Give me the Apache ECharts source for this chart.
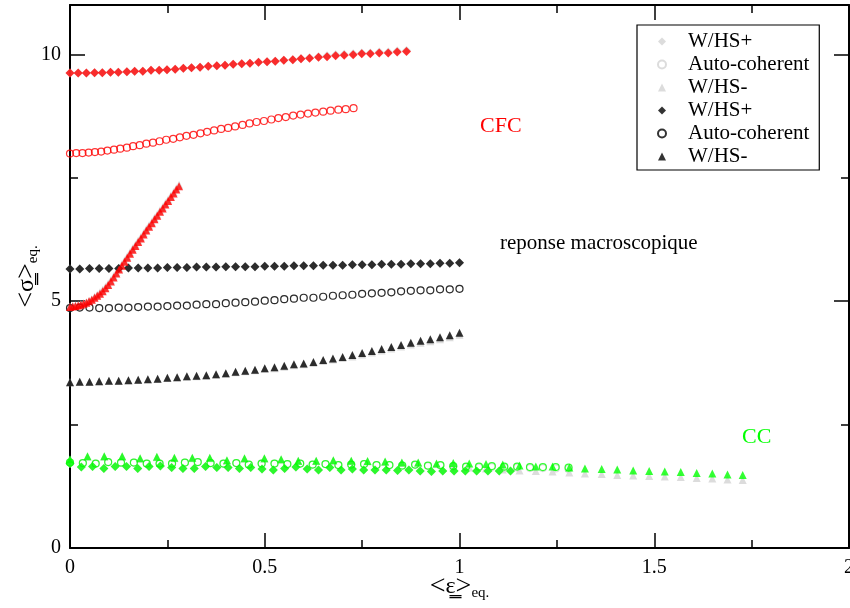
<!DOCTYPE html>
<html><head><meta charset="utf-8">
<script src="https://cdn.jsdelivr.net/npm/echarts@6/dist/echarts.min.js"></script>
<style>html,body{margin:0;padding:0;background:#fff}#c{width:850px;height:608px}</style>
</head><body><div id="c"></div>
<script>
// ---------- tick data ----------
const xTickValues = [0, 0.5, 1, 1.5, 2];
const xMinorTickValues = [0.25, 0.75, 1.25, 1.75];
const yTickValues = [0, 5, 10];
const yMinorTickValues = [2.5, 7.5];

// ---------- CFC (red) ----------
const cfcDiaX = [0,0.021,0.042,0.063,0.083,0.104,0.124,0.146,0.166,0.187,0.208,0.229,0.249,0.270,0.291,0.312,0.334,0.355,0.377,0.398,0.419,0.441,0.462,0.484,0.506,0.527,0.549,0.572,0.593,0.615,0.638,0.660,0.682,0.704,0.727,0.749,0.771,0.794,0.817,0.840,0.864];
const cfcDiaY = [9.62,9.62,9.62,9.63,9.63,9.64,9.64,9.65,9.66,9.66,9.68,9.68,9.69,9.70,9.72,9.73,9.74,9.76,9.77,9.78,9.80,9.81,9.82,9.84,9.85,9.86,9.88,9.89,9.91,9.92,9.94,9.95,9.97,9.98,9.99,10.01,10.01,10.03,10.03,10.05,10.06];
const cfcCircX = [0,0.016,0.032,0.048,0.064,0.080,0.096,0.113,0.129,0.146,0.162,0.179,0.196,0.213,0.230,0.247,0.265,0.282,0.299,0.317,0.335,0.352,0.370,0.388,0.406,0.424,0.443,0.461,0.479,0.498,0.517,0.535,0.554,0.573,0.592,0.611,0.630,0.650,0.669,0.689,0.708,0.728];
const cfcCircY = [7.99,8.00,8.00,8.01,8.02,8.03,8.05,8.07,8.09,8.11,8.14,8.16,8.19,8.21,8.24,8.27,8.29,8.32,8.35,8.37,8.40,8.43,8.46,8.49,8.51,8.54,8.57,8.60,8.63,8.65,8.68,8.71,8.73,8.76,8.78,8.80,8.82,8.84,8.86,8.88,8.89,8.91];
const cfcTriX = [0,0.007,0.014,0.021,0.028,0.035,0.042,0.049,0.056,0.063,0.070,0.077,0.084,0.091,0.098,0.105,0.112,0.119,0.126,0.133,0.140,0.147,0.154,0.161,0.168,0.175,0.182,0.189,0.196,0.203,0.210,0.217,0.224,0.231,0.238,0.245,0.252,0.259,0.266,0.273,0.280];
const cfcTriY = [4.88,4.89,4.90,4.91,4.93,4.95,4.97,5.00,5.03,5.07,5.11,5.15,5.20,5.26,5.33,5.40,5.48,5.56,5.64,5.72,5.80,5.88,5.96,6.04,6.12,6.20,6.27,6.35,6.43,6.51,6.58,6.66,6.73,6.81,6.88,6.96,7.03,7.11,7.18,7.26,7.33];

// ---------- reponse macroscopique (black) ----------
const macX = [0,0.025,0.05,0.075,0.1,0.125,0.15,0.175,0.2,0.225,0.25,0.275,0.3,0.325,0.35,0.375,0.4,0.425,0.45,0.475,0.5,0.525,0.55,0.575,0.6,0.625,0.65,0.675,0.7,0.725,0.75,0.775,0.8,0.825,0.85,0.875,0.9,0.925,0.95,0.975,1.0];
const macDiaY = [5.65,5.65,5.66,5.66,5.66,5.66,5.67,5.67,5.67,5.67,5.68,5.68,5.68,5.69,5.69,5.69,5.70,5.70,5.70,5.70,5.71,5.71,5.71,5.72,5.72,5.72,5.73,5.73,5.73,5.74,5.74,5.74,5.75,5.75,5.75,5.76,5.76,5.76,5.77,5.77,5.78];
const macCircY = [4.86,4.87,4.87,4.86,4.86,4.87,4.87,4.88,4.89,4.89,4.90,4.91,4.91,4.93,4.94,4.94,4.96,4.97,4.98,4.99,5.01,5.02,5.04,5.05,5.07,5.07,5.09,5.11,5.12,5.13,5.15,5.16,5.17,5.18,5.20,5.21,5.22,5.22,5.24,5.24,5.25];
const macTriY = [3.36,3.37,3.37,3.38,3.39,3.39,3.40,3.41,3.42,3.43,3.45,3.46,3.48,3.49,3.50,3.52,3.54,3.57,3.59,3.61,3.64,3.66,3.69,3.72,3.74,3.77,3.81,3.84,3.87,3.91,3.95,3.99,4.03,4.07,4.11,4.16,4.20,4.23,4.27,4.31,4.36];

// ---------- CC (green) ----------
const ccDiaX = [0,0.029,0.058,0.087,0.116,0.145,0.174,0.203,0.232,0.261,0.290,0.319,0.348,0.377,0.406,0.435,0.464,0.493,0.522,0.551,0.580,0.609,0.638,0.667,0.696,0.725,0.754,0.783,0.812,0.841,0.870,0.899,0.928,0.957,0.986,1.015,1.044,1.073,1.102,1.131];
const ccDiaY = [1.71,1.64,1.65,1.61,1.65,1.65,1.61,1.65,1.66,1.63,1.61,1.61,1.65,1.63,1.63,1.61,1.63,1.60,1.58,1.61,1.64,1.60,1.58,1.63,1.58,1.60,1.58,1.58,1.58,1.57,1.58,1.56,1.55,1.56,1.56,1.56,1.56,1.56,1.56,1.56];
const ccCircX = [0,0.033,0.066,0.098,0.131,0.164,0.197,0.230,0.262,0.295,0.328,0.361,0.394,0.427,0.459,0.492,0.525,0.558,0.591,0.623,0.656,0.689,0.722,0.755,0.787,0.820,0.853,0.886,0.919,0.951,0.984,1.017,1.050,1.083,1.115,1.148,1.181,1.214,1.247,1.280];
const ccCircY = [1.73,1.72,1.71,1.74,1.73,1.73,1.71,1.71,1.71,1.73,1.74,1.72,1.71,1.72,1.69,1.71,1.71,1.70,1.71,1.69,1.70,1.68,1.69,1.70,1.68,1.68,1.67,1.69,1.67,1.68,1.66,1.65,1.65,1.66,1.65,1.65,1.64,1.64,1.64,1.63];
const ccTriX = [0,0.045,0.088,0.134,0.180,0.223,0.268,0.314,0.359,0.403,0.448,0.499,0.542,0.586,0.632,0.676,0.722,0.764,0.809,0.852,0.894,0.941,0.984,1.025,1.068,1.111,1.154,1.196,1.239,1.282,1.322,1.365,1.405,1.446,1.487,1.527,1.568,1.609,1.649,1.688,1.727];
const ccTriY = [1.80,1.86,1.86,1.86,1.82,1.85,1.83,1.83,1.83,1.78,1.82,1.82,1.80,1.77,1.77,1.78,1.77,1.76,1.75,1.73,1.73,1.71,1.72,1.71,1.70,1.69,1.67,1.65,1.65,1.63,1.61,1.60,1.59,1.57,1.56,1.55,1.54,1.52,1.51,1.49,1.48];

// ---------- grey (second model) ----------
const greyCfcDiaY = [9.62,9.62,9.62,9.63,9.63,9.64,9.64,9.65,9.66,9.66,9.68,9.68,9.69,9.70,9.72,9.73,9.74,9.76,9.77,9.78,9.80,9.81,9.82,9.84,9.85,9.86,9.88,9.89,9.91,9.93,9.95,9.97,9.99,10.00,10.01,10.03,10.03,10.05,10.05,10.07,10.08];
const greyCfcTriY = [4.89,4.90,4.91,4.92,4.94,4.96,4.98,5.01,5.04,5.09,5.13,5.18,5.23,5.29,5.36,5.43,5.51,5.59,5.67,5.75,5.83,5.91,5.99,6.07,6.15,6.23,6.30,6.38,6.46,6.54,6.61,6.69,6.76,6.84,6.91,6.99,7.06,7.14,7.21,7.29,7.36];
const greyMacTriY = [3.36,3.37,3.37,3.38,3.39,3.39,3.40,3.41,3.42,3.43,3.45,3.46,3.47,3.48,3.49,3.51,3.53,3.56,3.58,3.60,3.63,3.64,3.67,3.70,3.72,3.75,3.79,3.82,3.85,3.88,3.92,3.96,4.00,4.04,4.08,4.12,4.16,4.19,4.23,4.27,4.32];
const greyCcTriY = [1.79,1.85,1.85,1.85,1.81,1.84,1.82,1.82,1.82,1.77,1.81,1.81,1.79,1.76,1.76,1.77,1.76,1.75,1.74,1.72,1.72,1.70,1.66,1.63,1.61,1.59,1.57,1.56,1.55,1.53,1.51,1.50,1.48,1.47,1.46,1.45,1.44,1.42,1.41,1.39,1.38];
const greyCcCircY = [1.73,1.72,1.71,1.74,1.73,1.73,1.71,1.71,1.71,1.73,1.74,1.72,1.71,1.72,1.69,1.71,1.71,1.70,1.71,1.69,1.70,1.68,1.69,1.70,1.68,1.68,1.67,1.68,1.66,1.67,1.65,1.64,1.63,1.64,1.63,1.63,1.62,1.62,1.61,1.60];
const greyCcDiaY = [1.71,1.64,1.65,1.61,1.65,1.65,1.61,1.65,1.66,1.63,1.61,1.61,1.65,1.63,1.63,1.61,1.63,1.60,1.58,1.61,1.64,1.60,1.58,1.63,1.58,1.60,1.58,1.58,1.58,1.57,1.58,1.56,1.55,1.56,1.56,1.56,1.56,1.56,1.56,1.56];

// ---------- build ----------
const zip = (xs, ys) => xs.map((x, i) => [x, ys[i]]);
const FONT = '"Liberation Serif","Times New Roman",serif';
const RED = '#ff0000', BLACK = '#000000', GREEN = '#00ff00', GREY = '#d3d3d3';

function sc(name, data, symbol, color, size, z) {
  const hollow = symbol === 'circle';
  return {
    type: 'scatter', name, data, symbol, symbolSize: size, z, symbolKeepAspect: true,
    itemStyle: hollow ? { color: 'rgba(0,0,0,0)', borderColor: color, borderWidth: 1.2 } : { color },
    emphasis: { disabled: true }, animation: false, silent: true
  };
}

const series = [
  sc('g:W/HS+', zip(cfcDiaX, greyCfcDiaY).concat(zip(macX, macDiaY), zip(ccDiaX, greyCcDiaY)), 'diamond', GREY, 9, 1),
  sc('g:Auto-coherent', zip(macX, macCircY).concat(zip(ccCircX, greyCcCircY)), 'circle', GREY, 7, 1),
  sc('g:W/HS-', zip(cfcTriX, greyCfcTriY).concat(zip(macX, greyMacTriY), zip(ccTriX, greyCcTriY)), 'triangle', GREY, 8, 1),
  sc('CC W/HS+', zip(ccDiaX, ccDiaY), 'diamond', GREEN, 9, 2),
  sc('CC Auto-coherent', zip(ccCircX, ccCircY), 'circle', GREEN, 7, 2),
  sc('CC W/HS-', zip(ccTriX, ccTriY), 'triangle', GREEN, 8, 2),
  sc('k:W/HS+', zip(macX, macDiaY), 'diamond', BLACK, 9, 3),
  sc('k:Auto-coherent', zip(macX, macCircY), 'circle', BLACK, 7, 3),
  sc('k:W/HS-', zip(macX, macTriY), 'triangle', BLACK, 8, 3),
  sc('CFC W/HS+', zip(cfcDiaX, cfcDiaY), 'diamond', RED, 9, 4),
  sc('CFC Auto-coherent', zip(cfcCircX, cfcCircY), 'circle', RED, 7, 4),
  sc('CFC W/HS-', zip(cfcTriX, cfcTriY), 'triangle', RED, 8, 4)
];

const lineStyle = { color: '#000', width: 2 };
const tickStyle = { color: '#000', width: 1.5 };
function xAx(pos, major) {
  return {
    type: 'value', position: pos, min: 0, max: 2,
    axisLine: { show: major, onZero: false, lineStyle }, splitLine: { show: false },
    axisTick: { show: true, inside: true, length: major ? 15 : 8, lineStyle: tickStyle,
                customValues: major ? xTickValues : xMinorTickValues },
    axisLabel: { show: major && pos === 'bottom', customValues: xTickValues, color: '#000',
                 fontFamily: FONT, fontSize: 20, margin: 10 }
  };
}
function yAx(pos, major) {
  return {
    type: 'value', position: pos, min: 0, max: 11,
    axisLine: { show: major, onZero: false, lineStyle }, splitLine: { show: false },
    axisTick: { show: true, inside: true, length: major ? 15 : 8, lineStyle: tickStyle,
                customValues: major ? yTickValues : yMinorTickValues },
    axisLabel: { show: major && pos === 'left', customValues: yTickValues, color: '#000',
                 fontFamily: FONT, fontSize: 20, margin: 9 }
  };
}
const xAxes = [xAx('bottom', true), xAx('top', true), xAx('bottom', false), xAx('top', false)];
const yAxes = [yAx('left', true), yAx('right', true), yAx('left', false), yAx('right', false)];
const nameRich = {
  a: { fontFamily: FONT, fontSize: 28, color: '#000' },
  b: { fontFamily: FONT, fontSize: 24, color: '#000' },
  c: { fontFamily: FONT, fontSize: 15, color: '#000', verticalAlign: 'bottom', padding: [10, 0, 0, 0] }
};
Object.assign(xAxes[0], { name: '{a|<}{b|ε\u0333}{a|>}{c|eq.}', nameLocation: 'middle', nameGap: 25,
  nameMoveOverlap: false, nameTextStyle: { rich: nameRich } });
Object.assign(yAxes[0], { name: '{a|<}{b|σ\u0333}{a|>}{c|eq.}', nameLocation: 'middle', nameGap: 29,
  nameMoveOverlap: false, nameTextStyle: { rich: nameRich } });

const option = {
  backgroundColor: '#fff',
  animation: false,
  grid: { left: 70, right: 1, top: 5, bottom: 60, containLabel: false, outerBoundsMode: 'none' },
  xAxis: xAxes,
  yAxis: yAxes,
  legend: {
    orient: 'vertical', left: 637, top: 25,
    data: ['g:W/HS+', 'g:Auto-coherent', 'g:W/HS-', 'k:W/HS+', 'k:Auto-coherent', 'k:W/HS-'],
    formatter: n => n.slice(2),
    itemWidth: 8, itemHeight: 8, itemGap: 0,
    padding: [5, 10, 2, 20],
    borderColor: '#000', borderWidth: 1.2, backgroundColor: '#fff',
    textStyle: { fontFamily: FONT, fontSize: 21, color: '#000', lineHeight: 23, padding: [0, 0, 0, 17] },
    selectedMode: false
  },
  graphic: [
    { type: 'text', left: 480, top: 115, style: { text: 'CFC', fill: RED, font: '22px "Liberation Serif"' } },
    { type: 'text', left: 500, top: 233, style: { text: 'reponse macroscopique', fill: '#000', font: '21px "Liberation Serif"' } },
    { type: 'text', left: 742, top: 426, style: { text: 'CC', fill: GREEN, font: '22px "Liberation Serif"' } }
  ],
  series
};
const chart = echarts.init(document.getElementById('c'), null, { renderer: 'canvas' });
chart.setOption(option);
</script>
</body></html>
